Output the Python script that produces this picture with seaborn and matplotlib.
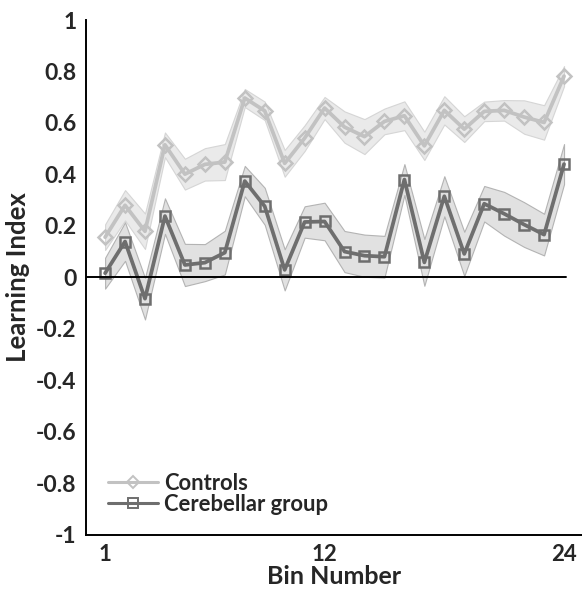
import numpy as np
import pandas as pd
import matplotlib
matplotlib.use('Agg')
import matplotlib.pyplot as plt
import seaborn as sns

# Learning index per bin
bins = list(range(1, 25))
controls = [0.156, 0.280, 0.179, 0.515, 0.401, 0.439, 0.448, 0.697, 0.647, 0.443, 0.541, 0.658,
            0.584, 0.547, 0.606, 0.628, 0.511, 0.649, 0.576, 0.645, 0.649, 0.623, 0.602, 0.782]
controls_sem = [0.050, 0.059, 0.069, 0.048, 0.060, 0.063, 0.070, 0.035, 0.036, 0.052, 0.050, 0.043,
                0.061, 0.068, 0.050, 0.056, 0.055, 0.055, 0.050, 0.038, 0.040, 0.065, 0.067, 0.039]
cerebellar = [0.016, 0.139, -0.083, 0.238, 0.048, 0.057, 0.096, 0.374, 0.276, 0.029, 0.215, 0.217,
              0.100, 0.084, 0.080, 0.380, 0.058, 0.315, 0.091, 0.286, 0.247, 0.205, 0.166, 0.440]
cerebellar_sem = [0.060, 0.075, 0.081, 0.069, 0.082, 0.072, 0.085, 0.059, 0.072, 0.080, 0.061, 0.073,
                  0.080, 0.082, 0.081, 0.060, 0.091, 0.078, 0.086, 0.069, 0.085, 0.087, 0.081, 0.078]
x_ticks = [1, 12, 24]
y_ticks = [-1, -0.8, -0.6, -0.4, -0.2, 0, 0.2, 0.4, 0.6, 0.8, 1]
y_ticklabels = ['-1', '-0.8', '-0.6', '-0.4', '-0.2', '0', '0.2', '0.4', '0.6', '0.8', '1']

df = pd.DataFrame({
    'bin': bins * 2,
    'index': controls + cerebellar,
    'sem': controls_sem + cerebellar_sem,
    'group': ['Controls'] * 24 + ['Cerebellar group'] * 24,
})

sns.set_style('white')
plt.rcParams['font.family'] = ['Lato', 'DejaVu Sans']
plt.rcParams['font.weight'] = 'bold'

fig = plt.figure(figsize=(5.82, 5.90), dpi=100)
ax = fig.add_axes([0.148, 0.094, 0.852, 0.872])

styles = {
    'Controls': dict(color='#c2c2c2', band='#e7e7e7', edge='#d0d0d0', marker='D', ms=7.5),
    'Cerebellar group': dict(color='#6e6e6e', band='#dcdcdc', edge='#a9a9a9', marker='s', ms=7),
}

for name, st in styles.items():
    sub = df[df['group'] == name]
    ax.fill_between(sub['bin'], sub['index'] - sub['sem'], sub['index'] + sub['sem'],
                    color=st['band'], alpha=0.85, edgecolor=st['edge'], linewidth=0.8, zorder=1)

for name, st in styles.items():
    sub = df[df['group'] == name]
    sns.lineplot(data=sub, x='bin', y='index', ax=ax, color=st['color'], linewidth=2.7,
                 marker=st['marker'], markersize=st['ms'], markerfacecolor='none',
                 markeredgecolor=st['color'], markeredgewidth=1.8, label=name, zorder=3)

ax.axhline(0, xmin=0, xmax=0.968, color='black', linewidth=1.4, zorder=4)

ax.set_xlim(0.05, 24.9)
ax.set_ylim(-1, 1)
ax.set_xticks(x_ticks)
ax.set_xticklabels([str(t) for t in x_ticks], fontsize=16, fontweight='bold')
ax.set_yticks(y_ticks)
ax.set_yticklabels(y_ticklabels, fontsize=16.5, fontweight='bold')
ax.tick_params(axis='y', length=0, pad=7)
ax.tick_params(axis='x', length=0, pad=7)
ax.set_xlabel('Bin Number', fontsize=18, fontweight='bold', labelpad=0)
ax.set_ylabel('Learning Index', fontsize=18.5, fontweight='bold', labelpad=4)

for side in ['top', 'right']:
    ax.spines[side].set_visible(False)
for side in ['left', 'bottom']:
    ax.spines[side].set_color('black')
    ax.spines[side].set_linewidth(1.4)

leg = ax.legend(loc='upper left', bbox_to_anchor=(0.044, 0.120), frameon=False,
                prop={'weight': 'bold', 'size': 15.8}, handlelength=2.3,
                handletextpad=0.25, labelspacing=0.0, borderpad=0, borderaxespad=0)
for h in leg.legend_handles:
    h.set_linewidth(2.2)
    h.set_markersize(6.5)
    h.set_markeredgewidth(1.4)

plt.savefig('out.png', dpi=100)
